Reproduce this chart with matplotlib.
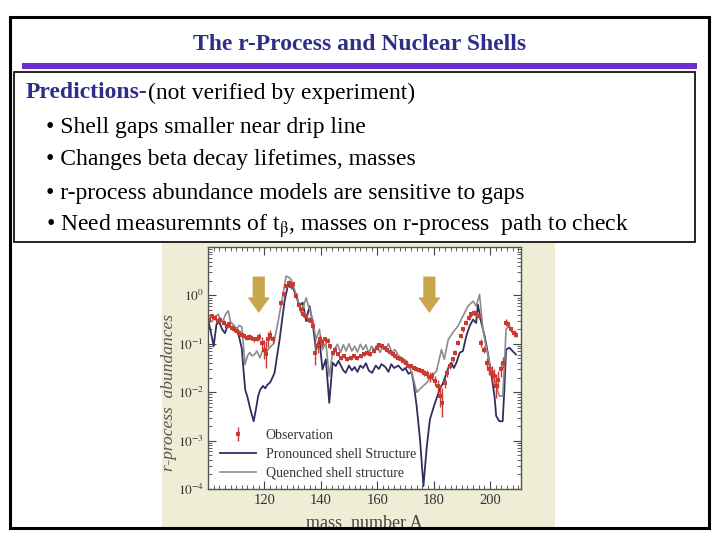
import numpy as np
import matplotlib.pyplot as plt
from matplotlib.patches import Rectangle
from matplotlib.ticker import FixedLocator, FixedFormatter, MultipleLocator, NullFormatter

plt.rcParams['font.family'] = ['Liberation Serif', 'DejaVu Serif']
plt.rcParams['mathtext.fontset'] = 'stix'

title = 'The r-Process and Nuclear Shells'
head_bold = 'Predictions-'
head_rest = '(not verified by experiment)'
bullets = ['• Shell gaps smaller near drip line',
           '• Changes beta decay lifetimes, masses',
           '• r-process abundance models are sensitive to gaps',
           r'• Need measuremnts of t$_{\mathrm{\beta}}$, masses on r-process  path to check']

# pronounced shell structure (mass number, log10 abundance)
pron_A = [100, 101, 102, 103, 104, 105, 106, 107, 108, 109, 110, 111, 112, 112.6, 113.2, 114, 115,
          116.2, 117, 117.8, 118.5, 119.5, 120.3, 121, 122, 122.7, 123.6, 124.5, 125.4, 126.3,
          127.2, 128.3, 129.5, 130.1, 131.3, 132.4, 133.6, 134.8, 136, 137.1, 138.3, 139.5,
          140.6, 141.8, 143, 144.2, 145.3, 146.3, 147.1, 148, 148.8, 150, 151, 152, 153, 154,
          155, 156, 157, 158.2, 159.5, 160.6, 161.5, 162.9, 164, 165, 166, 167.5, 169, 170,
          171.1, 172.2, 172.9, 174, 175.2, 176.4, 177.6, 178.7, 180.5, 182.2, 183.4, 184.6,
          185.5, 186.3, 187.2, 188.1, 189.3, 190.4, 191.6, 192.8, 194, 195.1, 195.7, 196.9,
          198.1, 199.2, 200.4, 201.6, 202.2, 203.3, 204.5, 205.1, 205.7, 206.9, 208, 209.2]
pron_log = [-0.50, -0.75, -1.05, -0.60, -0.55, -0.70, -0.78, -0.62, -0.65, -0.72, -0.68, -0.85,
            -1.10, -1.55, -1.95, -2.10, -2.35, -2.60, -2.35, -2.08, -1.95, -1.87, -1.92, -1.85,
            -1.80, -1.72, -1.60, -1.25, -0.91, -0.50, -0.10, 0.19, 0.26, 0.16, -0.01, -0.22,
            -0.15, -0.53, -0.22, -0.56, -1.12, -0.91, -1.53, -1.32, -2.22, -1.39, -1.46, -1.35,
            -1.45, -1.55, -1.60, -1.45, -1.55, -1.48, -1.58, -1.45, -1.50, -1.40, -1.55, -1.60,
            -1.45, -1.52, -1.42, -1.48, -1.58, -1.42, -1.50, -1.45, -1.55, -1.50, -1.62, -1.58,
            -1.80, -2.29, -2.98, -3.94, -3.12, -2.56, -2.22, -1.94, -1.80, -1.60, -1.45, -1.39,
            -1.50, -1.39, -1.18, -1.15, -0.84, -0.63, -0.50, -0.57, -0.19, -0.56, -0.84, -1.18,
            -1.60, -2.08, -2.49, -2.60, -2.60, -1.94, -1.12, -1.08, -1.15, -1.22]

# quenched shell structure
quen_A = [100, 101, 102, 103, 103.7, 104.5, 105.5, 106.3, 107.2, 108, 109, 110.2, 111, 112,
          112.6, 113.1, 114, 114.8, 115.6, 116.5, 117.3, 118.4, 119.5, 120.5, 121.3, 122.3,
          123.3, 124.8, 126.6, 127.7, 128.5, 129.5, 130.7, 131.8, 133, 134, 134.8, 136, 137.1,
          138.3, 139.5, 140.6, 141.8, 143, 144.2, 145.9, 147, 148, 149, 150, 151, 152, 153,
          154, 155, 156, 157, 158, 159, 160, 161, 162, 163, 164, 165.2, 166.3, 167.6, 169,
          170.5, 172.3, 174, 175.8, 177.6, 179.3, 181, 182.8, 183.8, 185.2, 186.8, 188.7,
          190.4, 192.2, 194, 195.1, 196.3, 197.5, 198.6, 199.8, 201.6, 203.3, 204.5, 205.1,
          205.7, 206.9, 208.1]
quen_log = [-0.43, -0.55, -0.50, -0.42, -0.39, -0.55, -0.50, -0.38, -0.32, -0.55, -0.60, -0.70,
            -0.62, -0.65, -1.05, -1.43, -1.25, -1.18, -1.25, -1.22, -1.15, -1.29, -1.12, -1.18,
            -1.12, -1.05, -1.00, -0.56, 0.02, 0.40, 0.38, 0.33, 0.12, -0.08, -0.36, -0.20,
            -0.05, -0.29, -0.50, -0.91, -0.70, -1.12, -0.98, -1.67, -1.18, -1.01, -1.18, -1.02,
            -1.15, -1.00, -1.15, -1.05, -1.17, -1.01, -1.12, -1.02, -1.20, -1.05, -1.13, -1.03,
            -1.18, -1.05, -1.12, -1.00, -1.18, -1.12, -1.25, -1.30, -1.36, -1.60, -2.00, -1.90,
            -1.80, -1.67, -1.57, -1.12, -1.32, -0.91, -0.77, -0.63, -0.43, -0.22, -0.12, -0.22,
            0.02, -0.70, -1.05, -1.39, -1.75, -2.08, -2.08, -1.47, -0.70, -0.63, -0.77]

# observation with error (dex)
obs_A = [100.2, 101.4, 102.5, 103.4, 104.3, 105.5, 106.6, 107.6, 108.4, 109.2, 110.2, 111.1,
         111.9, 112.7, 113.7, 114.6, 115.4, 116.4, 117.2, 118.1, 119, 119.8, 120.5, 121.3,
         122.1, 123.1, 126, 126.8, 127.7, 128.7, 129.5, 130.3, 131.3, 132.2, 133, 133.8,
         134.8, 135.7, 136.5, 137.4, 138.1, 138.9, 139.7, 140.6, 141.6, 142.4, 143.2, 144.2,
         145.1, 146.1, 147.1, 148.2, 149.4, 150.6, 151.8, 152.9, 154.1, 155.3, 156.5, 157.6,
         158.8, 160, 160.8, 161.7, 162.7, 163.6, 164.5, 165.5, 166.4, 167.4, 168.3, 169.2,
         170.2, 171.1, 172, 173, 173.9, 174.9, 175.8, 176.7, 177.7, 178.6, 179.5, 180.5,
         181.4, 182.4, 183.1, 184, 184.9, 185.9, 186.8, 187.7, 188.7, 189.6, 190.6, 191.5,
         192.4, 193.4, 194.3, 195.2, 196, 196.9, 197.8, 198.8, 199.7, 200.6, 201.6, 202.3,
         203, 203.9, 204.6, 205.7, 206.5, 207.4, 208.4, 209.3]
obs_log = [-0.50, -0.43, -0.46, -0.53, -0.50, -0.56, -0.63, -0.60, -0.67, -0.70, -0.74, -0.77,
           -0.81, -0.84, -0.87, -0.85, -0.87, -0.91, -0.90, -0.85, -0.98, -1.12, -1.22, -0.91,
           -0.81, -0.91, -0.15, 0.02, 0.19, 0.26, 0.19, 0.23, -0.01, -0.19, -0.29, -0.39,
           -0.43, -0.50, -0.53, -0.63, -1.18, -1.05, -0.91, -0.98, -0.91, -0.94, -1.05, -1.18,
           -1.12, -1.22, -1.29, -1.25, -1.32, -1.29, -1.25, -1.29, -1.25, -1.22, -1.18, -1.22,
           -1.15, -1.08, -1.03, -1.05, -1.08, -1.12, -1.17, -1.22, -1.25, -1.29, -1.32, -1.36,
           -1.39, -1.45, -1.46, -1.49, -1.53, -1.54, -1.56, -1.60, -1.63, -1.68, -1.67, -1.77,
           -1.87, -2.08, -2.22, -1.80, -1.60, -1.46, -1.32, -1.18, -0.98, -0.84, -0.70, -0.56,
           -0.46, -0.39, -0.36, -0.39, -0.43, -0.98, -1.12, -1.39, -1.53, -1.60, -1.67, -1.87,
           -1.74, -1.53, -1.39, -0.56, -0.60, -0.70, -0.77, -0.81]
obs_err = [0.05, 0.05, 0.05, 0.05, 0.05, 0.05, 0.05, 0.05, 0.05, 0.05, 0.05, 0.05,
           0.05, 0.05, 0.05, 0.05, 0.05, 0.05, 0.05, 0.08, 0.12, 0.20, 0.28, 0.15,
           0.10, 0.08, 0.05, 0.05, 0.05, 0.05, 0.05, 0.05, 0.05, 0.05, 0.05, 0.05,
           0.05, 0.05, 0.05, 0.08, 0.25, 0.15, 0.10, 0.08, 0.05, 0.05, 0.05, 0.05,
           0.05, 0.04, 0.04, 0.04, 0.04, 0.04, 0.04, 0.04, 0.04, 0.04, 0.04, 0.04,
           0.04, 0.04, 0.04, 0.04, 0.04, 0.04, 0.04, 0.04, 0.04, 0.04, 0.04, 0.04,
           0.04, 0.04, 0.04, 0.04, 0.04, 0.04, 0.04, 0.06, 0.08, 0.10, 0.08, 0.10,
           0.12, 0.22, 0.30, 0.12, 0.08, 0.06, 0.05, 0.05, 0.05, 0.05, 0.05, 0.05,
           0.05, 0.05, 0.05, 0.05, 0.05, 0.08, 0.08, 0.10, 0.12, 0.15, 0.15, 0.25,
           0.18, 0.15, 0.12, 0.08, 0.06, 0.05, 0.05, 0.05]

y_ticks = [1e-4, 1e-3, 1e-2, 1e-1, 1e0]
y_ticklabels = [r'$10^{-4}$', r'$10^{-3}$', r'$10^{-2}$', r'$10^{-1}$', r'$10^{0}$']
x_ticks = [120, 140, 160, 180, 200]
arrow_A = [118, 178.5]

NAVY = '#2F2F5F'
GRAY = '#8C8C8C'
RED = '#C83A32'
GOLD = '#C9A64E'

W, H = 720, 540
fig = plt.figure(figsize=(7.2, 5.4), dpi=100)

# slide layer in pixel coordinates
bg = fig.add_axes([0, 0, 1, 1])
bg.set_xlim(0, W)
bg.set_ylim(H, 0)
bg.axis('off')

bg.add_patch(Rectangle((162, 243), 393, 286, facecolor='#EFEDD6', edgecolor='none'))
bg.add_patch(Rectangle((22, 63), 675, 6, facecolor='#6A2ED2', edgecolor='none'))
bg.add_patch(Rectangle((14, 72), 681, 170, facecolor='none', edgecolor='black', lw=1.2))

bg.text(360, 45, title, ha='center', va='center', fontsize=17, fontweight='bold', color='#2E2E8A')
t1 = bg.text(26, 93, head_bold, ha='left', va='center', fontsize=17, fontweight='bold', color='#2E2E8A')
bg.annotate(head_rest, xy=(1, 0), xycoords=t1, ha='left', va='bottom', fontsize=17, color='black')
for i, b in enumerate(bullets):
    bg.text(46, 127 + 33 * i, b, ha='left', va='center', fontsize=17, color='black')

# chart axes
def px_axes(x0, y0, x1, y1):
    return [x0 / W, 1 - y1 / H, (x1 - x0) / W, (y1 - y0) / H]

ax = fig.add_axes(px_axes(208, 247, 521, 489))
ax.set_facecolor('white')

pron = 10 ** np.array(pron_log)
quen = 10 ** np.array(quen_log)
ol = np.array(obs_log)
oe = np.array(obs_err)
obs = 10 ** ol
yerr = [obs - 10 ** (ol - oe), 10 ** (ol + oe) - obs]

l1, = ax.plot(pron_A, pron, color=NAVY, lw=1.3)
l2, = ax.plot(quen_A, quen, color=GRAY, lw=1.2)
e1 = ax.errorbar(obs_A, obs, yerr=yerr, fmt='s', ms=2.2, color=RED, ecolor=RED,
                 elinewidth=1.0, capsize=0, mew=0)

ax.set_yscale('log')
ax.set_xlim(100, 211)
ax.set_ylim(1e-4, 10)
ax.yaxis.set_major_locator(FixedLocator(y_ticks))
ax.yaxis.set_major_formatter(FixedFormatter(y_ticklabels))
ax.yaxis.set_minor_formatter(NullFormatter())
ax.xaxis.set_major_locator(FixedLocator(x_ticks))
ax.xaxis.set_minor_locator(MultipleLocator(2))
ax.tick_params(which='both', direction='in', top=True, right=True, colors='#444444',
               labelcolor='#333333')
ax.tick_params(axis='x', labelsize=10.5)
ax.tick_params(axis='y', labelsize=9.5, pad=3)
ax.tick_params(which='major', length=6)
ax.tick_params(which='minor', length=3)
for s in ax.spines.values():
    s.set_color('#555555')
    s.set_linewidth(1.0)

for a in arrow_A:
    ax.annotate('', xy=(a, 0.38), xytext=(a, 2.8),
                arrowprops=dict(arrowstyle='simple,head_length=1.4,head_width=2.0,tail_width=1.1',
                                mutation_scale=8, color=GOLD, lw=0))

ax.set_ylabel('r-process  abundances', fontsize=12.5, style='italic', color='#555555')
ax.yaxis.set_label_coords(-0.1, 0.40)
ax.set_xlabel('mass  number A', fontsize=13, color='#444444', labelpad=6)

ax.legend([e1, l1, l2], ['Observation', 'Pronounced shell Structure', 'Quenched shell structure'],
          loc='upper left', bbox_to_anchor=(0.02, 0.27), frameon=False, fontsize=10,
          handlelength=2.6, handletextpad=0.7, labelspacing=0.42, borderaxespad=0,
          labelcolor='#333333')

# outer border and clipping strip
fig.add_artist(Rectangle((0, 0), 1, 11 / H, transform=fig.transFigure,
                         facecolor='white', edgecolor='none', zorder=10))
fig.add_artist(Rectangle((10 / W, 1 - 528 / H), 699 / W, 511 / H, transform=fig.transFigure,
                         facecolor='none', edgecolor='black', lw=2.2, zorder=11))

fig.savefig('out.png', dpi=100)
